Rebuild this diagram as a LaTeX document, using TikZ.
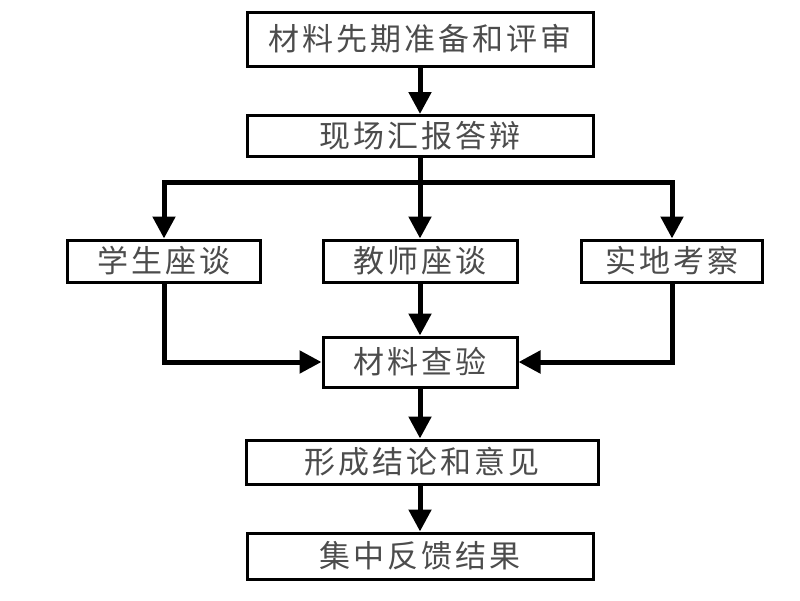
\documentclass[tikz,border=0pt]{standalone}
\usepackage{fontspec}
\newfontfamily\cjk[LetterSpace=10]{Noto Sans CJK SC}
\usetikzlibrary{arrows.meta}
\begin{document}
\begin{tikzpicture}[x=1pt,y=-1pt,
  box/.style={draw,line width=3pt,inner sep=0pt,font=\cjk\fontsize{31}{31}\selectfont,text=black!70},
  arr/.style={line width=5pt,-{Triangle[length=22pt,width=22pt]}},
  ln/.style={line width=5pt}]
\useasboundingbox (0,0) rectangle (800,600);
\node[box,minimum width=346pt,minimum height=54pt] (b1) at (420,39) {材料先期准备和评审};
\node[box,minimum width=346pt,minimum height=41pt] (b2) at (420,136) {现场汇报答辩};
\node[box,minimum width=193pt,minimum height=42pt] (b3) at (164,261) {学生座谈};
\node[box,minimum width=194pt,minimum height=42pt] (b4) at (420,261) {教师座谈};
\node[box,minimum width=181pt,minimum height=42pt] (b5) at (672,261) {实地考察};
\node[box,minimum width=194pt,minimum height=50pt] (b6) at (420,362) {材料查验};
\node[box,minimum width=352pt,minimum height=44pt] (b7) at (422,462) {形成结论和意见};
\node[box,minimum width=346pt,minimum height=46pt] (b8) at (420,556) {集中反馈结果};
\coordinate (j) at (420,182);
\draw[arr] (b1.south) -- (b2.north);
\draw[arr] (b2.south) -- (b4.north);
\draw[arr] (j) -| (b3.north);
\draw[arr] (j) -| (b5.north);
\draw[arr] (b4.south) -- (b6.north);
\draw[arr] (b3.south) |- (b6.west);
\draw[arr] (b5.south) |- (b6.east);
\draw[arr] (b6.south) -- (b6.south |- b7.north);
\draw[arr] (b7.south -| b8.north) -- (b8.north);
\end{tikzpicture}
\end{document}
